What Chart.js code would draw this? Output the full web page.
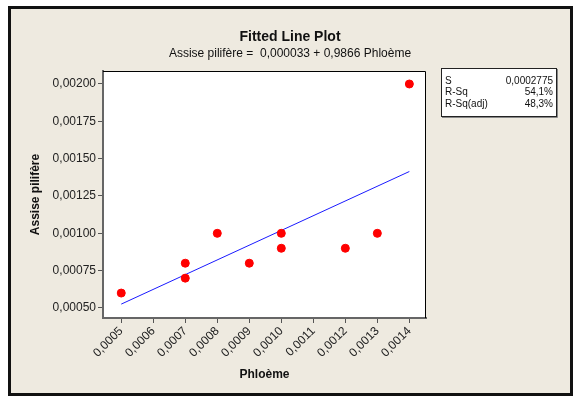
<!DOCTYPE html>
<html>
<head>
<meta charset="utf-8">
<script src="https://cdn.jsdelivr.net/npm/chart.js@4"></script>
<style>
  html, body { margin: 0; padding: 0; background: #fff; }
  canvas { display: block; }
</style>
</head>
<body>
<canvas id="myChart" width="575" height="396"></canvas>
<script>
// data
var phloeme = [0.0005, 0.0007, 0.0007, 0.0008, 0.0009, 0.0010, 0.0010, 0.0012, 0.0013, 0.0014];
var assise  = [0.0006, 0.0008, 0.0007, 0.0010, 0.0008, 0.0010, 0.0009, 0.0009, 0.0010, 0.0020];
var fitX = [0.0005, 0.0014];
var fitY = [0.000526, 0.001414];
var xTicks = [0.0005, 0.0006, 0.0007, 0.0008, 0.0009, 0.0010, 0.0011, 0.0012, 0.0013, 0.0014];
var yTicks = [0.0005, 0.00075, 0.0010, 0.00125, 0.0015, 0.00175, 0.0020];
var statNames = ["S", "R-Sq", "R-Sq(adj)"];
var statValues = ["0,0002775", "54,1%", "48,3%"];

var FONT = "'Liberation Sans', Arial, sans-serif";

function comma(v, d) {
  return v.toFixed(d).replace(".", ",");
}

var points = [];
for (var i = 0; i < phloeme.length; i++) points.push({x: phloeme[i], y: assise[i]});
var fitLine = [];
for (var j = 0; j < fitX.length; j++) fitLine.push({x: fitX[j], y: fitY[j]});

var frame = {
  id: "frame",
  beforeDraw: function(chart) {
    var ctx = chart.ctx;
    ctx.save();
    ctx.fillStyle = "#fff";
    ctx.fillRect(0, 0, 575, 396);
    ctx.fillStyle = "#eeeae0";
    ctx.fillRect(9, 7, 563, 389);
    ctx.strokeStyle = "#111";
    ctx.lineWidth = 3;
    ctx.strokeRect(9.5, 7.5, 562, 387);
    var a = chart.chartArea;
    ctx.fillStyle = "#fff";
    ctx.fillRect(a.left, a.top, a.right - a.left, a.bottom - a.top);
    ctx.restore();
  },
  afterDraw: function(chart) {
    var ctx = chart.ctx;
    var a = chart.chartArea;
    ctx.save();
    // top / right border of plot
    ctx.strokeStyle = "#000";
    ctx.lineWidth = 1;
    ctx.beginPath();
    ctx.moveTo(a.left, a.top + 0.5);
    ctx.lineTo(a.right - 0.5, a.top + 0.5);
    ctx.lineTo(a.right - 0.5, a.bottom);
    ctx.stroke();

    // titles
    ctx.fillStyle = "#111";
    ctx.textAlign = "center";
    ctx.textBaseline = "middle";
    ctx.font = "bold 14px " + FONT;
    ctx.fillText("Fitted Line Plot", 290, 37);
    ctx.font = "12px " + FONT;
    ctx.fillText("Assise pilifère =  0,000033 + 0,9866 Phloème", 290, 54);

    // stats box
    ctx.fillStyle = "#fff";
    ctx.fillRect(441, 68, 116, 49);
    ctx.strokeStyle = "#222";
    ctx.strokeRect(441.5, 68.5, 115, 48);
    ctx.strokeStyle = "#888";
    ctx.beginPath();
    ctx.moveTo(442, 117.5);
    ctx.lineTo(557.5, 117.5);
    ctx.lineTo(557.5, 69);
    ctx.stroke();
    ctx.font = "10px " + FONT;
    ctx.fillStyle = "#111";
    for (var k = 0; k < statNames.length; k++) {
      var y = 81 + k * 11.5;
      ctx.textAlign = "left";
      ctx.fillText(statNames[k], 445, y);
      ctx.textAlign = "right";
      ctx.fillText(statValues[k], 553, y);
    }
    ctx.restore();
  }
};

new Chart("myChart", {
  type: "scatter",
  data: {
    datasets: [{
      data: points,
      backgroundColor: "#ff0000",
      borderColor: "#ff0000",
      pointRadius: 4,
      pointHoverRadius: 4,
      order: 1
    }, {
      type: "line",
      data: fitLine,
      borderColor: "#1a1aff",
      borderWidth: 1,
      pointRadius: 0,
      fill: false,
      order: 2
    }]
  },
  options: {
    responsive: false,
    animation: false,
    layout: { padding: { left: 10, right: 149, top: 71, bottom: 0 } },
    plugins: {
      legend: { display: false },
      tooltip: { enabled: false }
    },
    scales: {
      x: {
        type: "linear",
        min: 0.000443,
        max: 0.001452,
        afterFit: function(s) { s.height = 78; },
        afterBuildTicks: function(s) { s.ticks = xTicks.map(function(v) { return {value: v}; }); },
        grid: { drawOnChartArea: false, drawTicks: true, tickLength: 5, color: "#555" },
        border: { color: "#666", width: 2 },
        ticks: {
          maxRotation: 45, minRotation: 45, padding: 1,
          color: "#222", font: { family: FONT, size: 12 },
          callback: function(v) { return comma(v, 4); }
        },
        title: {
          display: true, text: "Phloème", color: "#111",
          font: { family: FONT, size: 12, weight: "bold" },
          padding: { top: 0, bottom: 14 }
        }
      },
      y: {
        type: "linear",
        min: 0.000433,
        max: 0.002087,
        afterFit: function(s) { s.width = 93; },
        afterBuildTicks: function(s) { s.ticks = yTicks.map(function(v) { return {value: v}; }); },
        grid: { drawOnChartArea: false, drawTicks: true, tickLength: 5, color: "#555" },
        border: { color: "#666", width: 2 },
        ticks: {
          padding: 2,
          color: "#222", font: { family: FONT, size: 12 },
          callback: function(v) { return comma(v, 5); }
        },
        title: {
          display: true, text: "Assise pilifère", color: "#111",
          font: { family: FONT, size: 12, weight: "bold" },
          padding: { top: 18, bottom: 0 }
        }
      }
    }
  },
  plugins: [frame]
});
</script>
</body>
</html>
